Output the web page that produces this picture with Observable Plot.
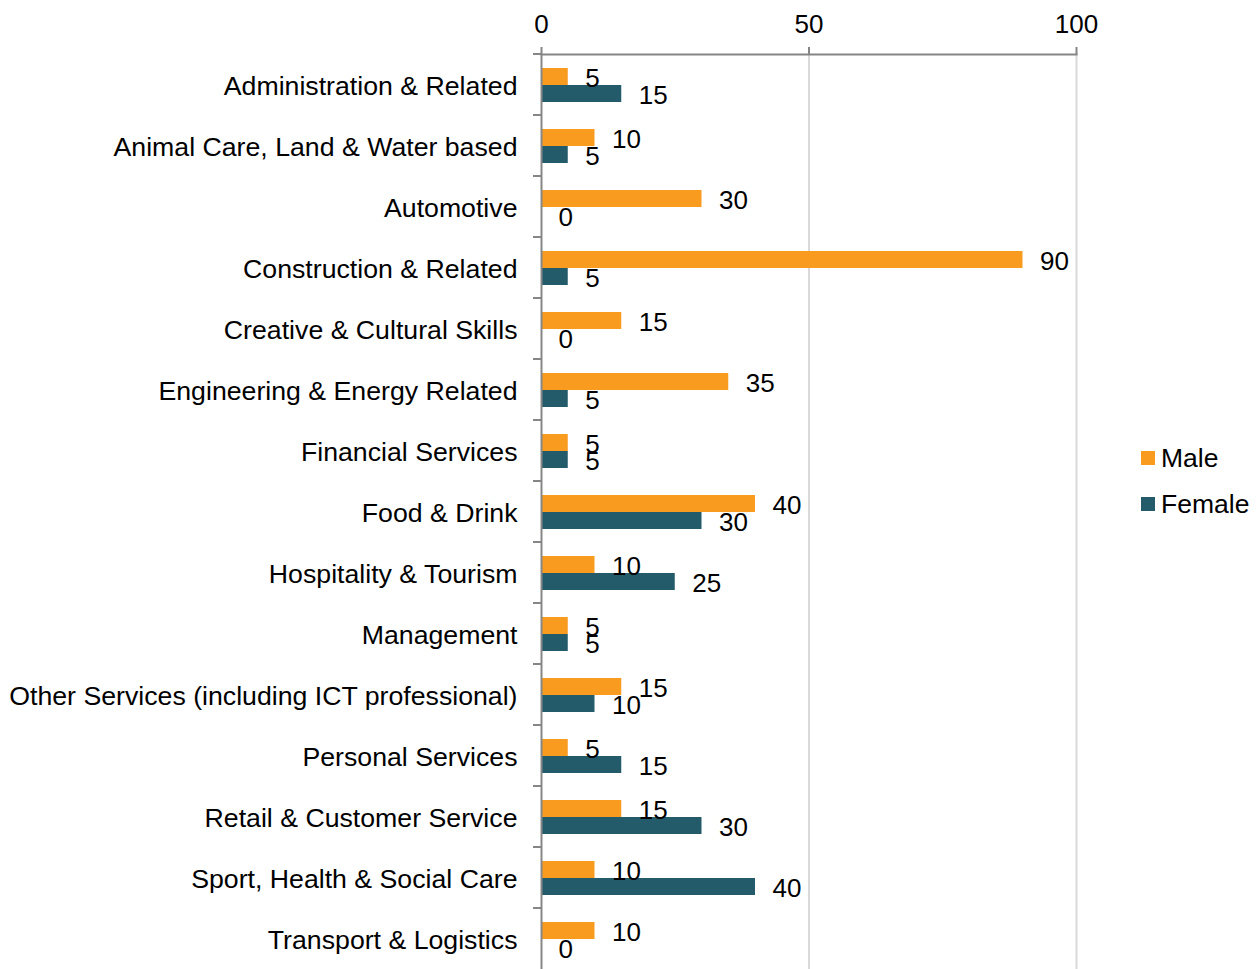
<!DOCTYPE html>
<html>
<head>
<meta charset="utf-8">
<script src="https://cdn.jsdelivr.net/npm/d3@7"></script>
<script src="https://cdn.jsdelivr.net/npm/@observablehq/plot@0.6"></script>
<style>
  html, body { margin: 0; padding: 0; background: #fff; }
  #wrap { position: relative; width: 1257px; height: 969px; font-family: "Liberation Sans", Arial, sans-serif; }
  #legend { position: absolute; left: 1141px; top: 435px; font-size: 26.5px; color: #000; }
  #legend .item { display: flex; align-items: center; height: 46px; }
  #legend .sw { width: 14px; height: 14px; margin-right: 6px; }
</style>
</head>
<body>
<div id="wrap"><div id="legend"></div></div>
<script>
const categories = [
  "Administration & Related",
  "Animal Care, Land & Water based",
  "Automotive",
  "Construction & Related",
  "Creative & Cultural Skills",
  "Engineering & Energy Related",
  "Financial Services",
  "Food & Drink",
  "Hospitality & Tourism",
  "Management",
  "Other Services (including ICT professional)",
  "Personal Services",
  "Retail & Customer Service",
  "Sport, Health & Social Care",
  "Transport & Logistics"
];
const series = ["Male", "Female"];
const maleValues   = [5, 10, 30, 90, 15, 35, 5, 40, 10, 5, 15, 5, 15, 10, 10];
const femaleValues = [15, 5, 0, 5, 0, 5, 5, 30, 25, 5, 10, 15, 30, 40, 0];
const xTicks = [0, 50, 100];
const colors = ["#F89B1F", "#235B6B"];

const rows = [];
categories.forEach((c, i) => {
  rows.push({category: c, sex: "Male", value: maleValues[i]});
  rows.push({category: c, sex: "Female", value: femaleValues[i]});
});

const axisGray = "#868686";
const font = "\"Liberation Sans\", Arial, sans-serif";

// boundary ticks on the category axis (drawn at the top of each facet band)
function boundaryTick(index, scales, values, dimensions) {
  const g = document.createElementNS("http://www.w3.org/2000/svg", "g");
  const l = document.createElementNS("http://www.w3.org/2000/svg", "line");
  l.setAttribute("x1", dimensions.marginLeft - 8);
  l.setAttribute("x2", dimensions.marginLeft);
  l.setAttribute("y1", dimensions.marginTop);
  l.setAttribute("y2", dimensions.marginTop);
  l.setAttribute("stroke", axisGray);
  l.setAttribute("stroke-width", 2);
  g.appendChild(l);
  return g;
}

const chart = Plot.plot({
  width: 1257,
  height: 969,
  marginLeft: 541,
  marginRight: 181,
  marginTop: 54,
  marginBottom: 0,
  style: {fontFamily: font, fontSize: "26px", color: "#000", background: "transparent"},
  x: {domain: [0, 100], axis: null},
  y: {domain: series, paddingInner: 0, paddingOuter: 0.763, axis: null},
  fy: {domain: categories, padding: 0, axis: null},
  color: {domain: series, range: colors},
  marks: [
    Plot.ruleX([50, 100], {stroke: "#D9D9D9", strokeWidth: 2}),
    Plot.barX(rows, {fy: "category", y: "sex", x: "value", fill: "sex"}),
    Plot.ruleX([0], {stroke: axisGray, strokeWidth: 2}),
    boundaryTick,
    Plot.text(rows, {fy: "category", y: "sex", x: "value", text: d => String(d.value),
      dx: 17, dy: 1.5, textAnchor: "start", fill: "#000", fontSize: 26}),
    Plot.frame({anchor: "top", stroke: axisGray, strokeWidth: 2, facetAnchor: "top"}),
    Plot.axisX({anchor: "top", ticks: xTicks, tickSize: 8, tickPadding: 14, stroke: axisGray,
      strokeWidth: 2, fill: "#000", fontSize: 26, label: null, tickFormat: d => String(d)}),
    Plot.axisFy({anchor: "left", tickSize: 0, tickPadding: 24, dy: 1.5, fill: "#000", fontSize: 26.7, label: null})
  ]
});

const wrap = document.getElementById("wrap");
wrap.insertBefore(chart, wrap.firstChild);

const legend = document.getElementById("legend");
series.forEach((s, i) => {
  const item = document.createElement("div");
  item.className = "item";
  const sw = document.createElement("div");
  sw.className = "sw";
  sw.style.background = colors[i];
  const t = document.createElement("span");
  t.textContent = s;
  item.appendChild(sw);
  item.appendChild(t);
  legend.appendChild(item);
});
</script>
</body>
</html>
